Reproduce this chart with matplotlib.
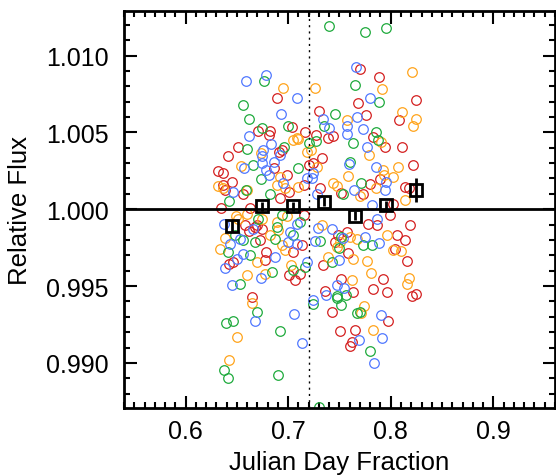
import numpy as np
import matplotlib
matplotlib.use("Agg")
import matplotlib.pyplot as plt
from matplotlib.ticker import MultipleLocator

plt.rcParams['font.family'] = ['Liberation Sans', 'DejaVu Sans']

# scattered individual measurements, one list per colour
red_x = [0.6887, 0.7702, 0.7881, 0.7682, 0.8251, 0.7296, 0.8076, 0.7760,
         0.6708, 0.6822, 0.6812, 0.7033, 0.7163, 0.6513, 0.6417, 0.6912, 0.6945,
         0.6318, 0.6366, 0.6861, 0.6990, 0.6454, 0.6383, 0.6556, 0.7153, 0.6361,
         0.6919, 0.7205, 0.7244, 0.7010, 0.6341, 0.6627,
         0.7270, 0.7390, 0.7439, 0.7823, 0.7943, 0.8105, 0.7326, 0.8218, 0.7894,
         0.7796, 0.8137, 0.8179, 0.7520, 0.7725, 0.7309, 0.8018,
         0.7487, 0.7455, 0.7569, 0.7780, 0.7862, 0.7991, 0.8186, 0.8062, 0.8137,
         0.8040, 0.7585, 0.7341, 0.8154, 0.7520, 0.7920, 0.7828, 0.7959, 0.7634,
         0.7358, 0.8245, 0.8203,
         0.6578, 0.6620, 0.6675, 0.6741, 0.6698, 0.6724, 0.7153, 0.7049, 0.7131,
         0.6789, 0.6773, 0.6464, 0.6425, 0.7010, 0.7065, 0.7114, 0.6643,
         0.7423, 0.7504, 0.7975, 0.7653, 0.7618, 0.7601]
red_y = [1.00722, 1.00909, 1.00861, 1.00694, 1.00713, 1.00639, 1.00583, 1.00611,
         1.00508, 1.00508, 1.00482, 1.00537, 1.00500, 1.00405, 1.00345, 1.00374, 1.00385,
         1.00248, 1.00233, 1.00265, 1.00222, 1.00174, 1.00124, 1.00099, 1.00156, 1.00155,
         1.00070, 1.00287, 1.00298, 1.00113, 1.00005, 1.00005,
         1.00482, 1.00461, 1.00476, 1.00472, 1.00407, 1.00402, 1.00335, 1.00287, 1.00194,
         1.00163, 1.00146, 1.00135, 1.00107, 1.00102, 1.00135, 1.00037,
         0.99835, 0.99787, 0.99853, 0.99907, 0.99896, 0.99961, 0.99900, 0.99835, 0.99798,
         0.99739, 0.99718, 0.99639, 0.99661, 0.99544, 0.99544, 0.99483, 0.99462, 0.99462,
         0.99465, 0.99450, 0.99435,
         0.99896, 0.99857, 0.99885, 0.99874, 0.99900, 0.99798, 0.99965, 0.99722, 0.99765,
         0.99722, 0.99668, 0.99657, 0.99646, 0.99570, 0.99537, 0.99581, 0.99429,
         0.99331, 0.99205, 0.99270, 0.99211, 0.99136, 0.99113]

orange_x = [0.6951, 0.7260, 0.8212, 0.7916, 0.8111, 0.8245, 0.7569,
            0.7043, 0.7082, 0.7097, 0.7179, 0.7221, 0.6731, 0.6536, 0.6318, 0.6361,
            0.6595, 0.6887, 0.6968, 0.7097, 0.6919, 0.7277,
            0.8218, 0.7790, 0.7926, 0.8072, 0.8023, 0.7585, 0.7933, 0.7439, 0.7475,
            0.7855, 0.7699, 0.8137, 0.7901,
            0.6383, 0.6490, 0.6595, 0.6334, 0.6822, 0.6903, 0.6887, 0.6990, 0.6936,
            0.6968, 0.6692, 0.6595, 0.6773, 0.7023,
            0.7326, 0.7504, 0.7472, 0.7601, 0.7667, 0.7965, 0.8023, 0.8096, 0.7390,
            0.7628, 0.7770, 0.7803, 0.7618, 0.8179, 0.8160,
            0.6646, 0.6497, 0.6422, 0.7738, 0.7715, 0.7823, 0.6741, 0.6513]
orange_y = [1.00791, 1.00791, 1.00893, 1.00782, 1.00635, 1.00589, 1.00580,
            1.00450, 1.00461, 1.00458, 1.00374, 1.00385, 1.00363, 1.00280, 1.00150, 1.00135,
            1.00124, 1.00156, 1.00135, 1.00146, 1.00211, 1.00276,
            1.00541, 1.00352, 1.00254, 1.00276, 1.00207, 1.00215, 1.00222, 1.00172, 1.00148,
            1.00135, 1.00085, 1.00063, 1.00439,
            0.99814, 0.99957, 0.99972, 0.99744, 0.99831, 0.99863, 0.99918, 0.99957, 0.99765,
            0.99733, 0.99657, 0.99570, 0.99581, 0.99635,
            0.99896, 0.99787, 0.99755, 0.99820, 0.99804, 0.99831, 0.99733, 0.99731, 0.99690,
            0.99674, 0.99664, 0.99587, 0.99537, 0.99553, 0.99516,
            0.99392, 0.99170, 0.99016, 0.99370, 0.99325, 0.99216, 0.99939, 0.99939]

green_x = [0.7400, 0.7754, 0.7949, 0.6763, 0.6556, 0.6620, 0.7653, 0.7881, 0.7458,
           0.6750, 0.7000, 0.7348, 0.7205, 0.7270, 0.6958, 0.6602, 0.6653, 0.7097,
           0.6731, 0.6822, 0.6425, 0.6588,
           0.7855, 0.7877, 0.7634, 0.7601, 0.7715, 0.7536,
           0.6708, 0.6481, 0.6561, 0.6415, 0.6627, 0.6675, 0.6870, 0.6887, 0.7049,
           0.7114, 0.6945, 0.7043, 0.7163, 0.6838, 0.6529,
           0.7520, 0.7497, 0.7309, 0.7731, 0.7813, 0.7423, 0.7472,
           0.6692, 0.6393, 0.6458, 0.6919, 0.6373, 0.6409, 0.6906, 0.7302, 0.7238,
           0.7478, 0.7511, 0.7562, 0.7673, 0.7699, 0.7796]
green_y = [1.01189, 1.01152, 1.01178, 1.00834, 1.00678, 1.00585, 1.00806, 1.00696, 1.00619,
           1.00531, 1.00541, 1.00541, 1.00428, 1.00443, 1.00404, 1.00389, 1.00287, 1.00269,
           1.00194, 1.00102, 1.00052, 1.00124,
           1.00505, 1.00450, 1.00428, 1.00309, 1.00168, 1.00098,
           0.99939, 0.99835, 0.99798, 0.99722, 0.99700, 0.99787, 0.99809, 0.99885, 0.99830,
           0.99918, 0.99961, 0.99602, 0.99625, 0.99592, 0.99516,
           0.99820, 0.99748, 0.99791, 0.99765, 0.99765, 0.99657, 0.99435,
           0.99331, 0.99259, 0.99276, 0.99205, 0.98957, 0.98903, 0.98920, 0.98716, 0.99385,
           0.99424, 0.99379, 0.99444, 0.99325, 0.99331, 0.99077]

blue_x = [0.6588, 0.6783, 0.7088, 0.6929, 0.7657, 0.7796, 0.7335, 0.7673,
          0.7400, 0.6620, 0.6831, 0.6756, 0.6741, 0.6919, 0.6861, 0.6571, 0.6750,
          0.6783, 0.6815, 0.6951, 0.6464,
          0.7575, 0.7725, 0.7575, 0.7770, 0.7595, 0.7855, 0.7952, 0.7943, 0.7640,
          0.7283, 0.7244, 0.7813, 0.7179, 0.7228,
          0.6373, 0.6659, 0.6529, 0.6432, 0.6556, 0.7017, 0.7082, 0.7000, 0.7082,
          0.6870, 0.6497, 0.6383, 0.6448, 0.6731, 0.7179,
          0.7292, 0.7423, 0.7536, 0.7260, 0.7748, 0.7887, 0.7862, 0.7497, 0.7478,
          0.7543, 0.7367,
          0.6675, 0.7058, 0.7136, 0.7238, 0.7901, 0.7916, 0.7689, 0.7835]
blue_y = [1.00834, 1.00870, 1.00722, 1.00619, 1.00924, 1.00722, 1.00585, 1.00602,
          1.00526, 1.00476, 1.00425, 1.00385, 1.00347, 1.00352, 1.00309, 1.00265, 1.00302,
          1.00254, 1.00222, 1.00168, 1.00113,
          1.00541, 1.00520, 1.00489, 1.00402, 1.00293, 1.00272, 1.00179, 1.00124, 1.00128,
          1.00102, 1.00233, 1.00026, 1.00200, 1.00205,
          0.99907, 0.99870, 0.99809, 0.99776, 0.99711, 0.99853, 0.99907, 0.99787, 0.99776,
          0.99690, 0.99679, 0.99618, 0.99505, 0.99553, 0.99657,
          0.99879, 0.99874, 0.99814, 0.99791, 0.99820, 0.99781, 0.99939, 0.99668, 0.99505,
          0.99488, 0.99444,
          0.99274, 0.99320, 0.99129, 0.99407, 0.99309, 0.99164, 0.99146, 0.99001]

# binned averages
bin_x = [0.645, 0.675, 0.705, 0.735, 0.765, 0.795, 0.825]
bin_y = [0.99889, 1.00020, 1.00020, 1.00048, 0.99957, 1.00026, 1.00124]
bin_err = [0.0004, 0.0003, 0.0003, 0.0003, 0.0003, 0.0003, 0.0008]

fig = plt.figure(figsize=(5.56, 4.77), dpi=100)
ax = fig.add_axes([0.223, 0.1436, 0.775, 0.8314])

ax.plot(red_x, red_y, 'o', mfc='none', mec='#d42020', ms=6.9, mew=0.9)
ax.plot(orange_x, orange_y, 'o', mfc='none', mec='#ffa41c', ms=6.9, mew=0.9)
ax.plot(green_x, green_y, 'o', mfc='none', mec='#1eaa3c', ms=6.9, mew=0.9)
ax.plot(blue_x, blue_y, 'o', mfc='none', mec='#5078ff', ms=6.9, mew=0.9)

ax.axhline(1.0, color='black', lw=2)
ax.axvline(0.72, color='black', lw=1, ls=(0, (1.5, 3)))

ax.errorbar(bin_x, bin_y, yerr=bin_err, fmt='s', mfc='none', mec='black',
            ms=8.5, mew=2, ecolor='black', elinewidth=2, capsize=0)

ax.set_xlim(0.54, 0.96)
ax.set_ylim(0.9871, 1.0129)
ax.xaxis.set_major_locator(MultipleLocator(0.1))
ax.xaxis.set_minor_locator(MultipleLocator(0.01))
ax.yaxis.set_major_locator(MultipleLocator(0.005))
ax.yaxis.set_minor_locator(MultipleLocator(0.001))
ax.xaxis.set_major_formatter(plt.FormatStrFormatter('%.1f'))
ax.yaxis.set_major_formatter(plt.FormatStrFormatter('%.3f'))

ax.tick_params(which='both', direction='in', top=True, right=True, width=1.5,
               labelsize=18)
ax.tick_params(which='major', length=9)
ax.tick_params(axis='x', which='major', pad=8)
ax.tick_params(axis='y', which='major', pad=11)
ax.tick_params(which='minor', length=4.5)
for s in ax.spines.values():
    s.set_linewidth(2)

ax.set_xlabel('Julian Day Fraction', fontsize=18.5, labelpad=5.5)
ax.set_ylabel('Relative Flux', fontsize=18.5, labelpad=10)

fig.savefig('out.png', dpi=100)
